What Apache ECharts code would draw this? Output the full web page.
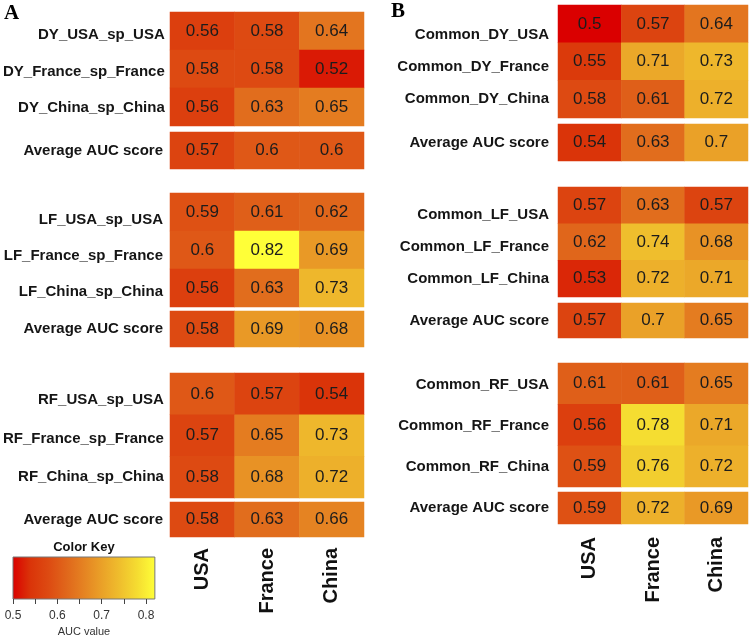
<!DOCTYPE html>
<html>
<head>
<meta charset="utf-8">
<script src="https://cdn.jsdelivr.net/npm/echarts@6/dist/echarts.min.js"></script>
<style>html,body{margin:0;padding:0;background:#fff}#c{width:750px;height:639px}</style>
</head>
<body>
<div id="c"></div>
<script>
// ---- data ----
const columns = ['USA', 'France', 'China'];
const avgLabel = 'Average AUC score';

const rowsA_DY = ['DY_USA_sp_USA', 'DY_France_sp_France', 'DY_China_sp_China'];
const valsA_DY = [[0.56, 0.58, 0.64], [0.58, 0.58, 0.52], [0.56, 0.63, 0.65]];
const avgA_DY = [0.57, 0.6, 0.6];

const rowsA_LF = ['LF_USA_sp_USA', 'LF_France_sp_France', 'LF_China_sp_China'];
const valsA_LF = [[0.59, 0.61, 0.62], [0.6, 0.82, 0.69], [0.56, 0.63, 0.73]];
const avgA_LF = [0.58, 0.69, 0.68];

const rowsA_RF = ['RF_USA_sp_USA', 'RF_France_sp_France', 'RF_China_sp_China'];
const valsA_RF = [[0.6, 0.57, 0.54], [0.57, 0.65, 0.73], [0.58, 0.68, 0.72]];
const avgA_RF = [0.58, 0.63, 0.66];

const rowsB_DY = ['Common_DY_USA', 'Common_DY_France', 'Common_DY_China'];
const valsB_DY = [[0.5, 0.57, 0.64], [0.55, 0.71, 0.73], [0.58, 0.61, 0.72]];
const avgB_DY = [0.54, 0.63, 0.7];

const rowsB_LF = ['Common_LF_USA', 'Common_LF_France', 'Common_LF_China'];
const valsB_LF = [[0.57, 0.63, 0.57], [0.62, 0.74, 0.68], [0.53, 0.72, 0.71]];
const avgB_LF = [0.57, 0.7, 0.65];

const rowsB_RF = ['Common_RF_USA', 'Common_RF_France', 'Common_RF_China'];
const valsB_RF = [[0.61, 0.61, 0.65], [0.56, 0.78, 0.71], [0.59, 0.76, 0.72]];
const avgB_RF = [0.59, 0.72, 0.69];

const keyMin = 0.5, keyMax = 0.82;
const keyTickMax = 0.8, keyTickStep = 0.05;
const heatColors = ['#DA0000', '#DA3409', '#DD4A12', '#E0661B', '#E58322', '#EAA128', '#EFBE2D', '#F5DD31', '#FFFF38'];

// ---- layout ----
const FONT = '"Liberation Sans", Arial, sans-serif';
const blocks = [
  {rows: rowsA_DY, vals: valsA_DY, avg: avgA_DY, left: 170, width: 194, top: 12, h: 114, avgTop: 132, avgH: 37, labTop: 16.75, labH: 109.5, margin: 7, avgPad: 14, last: false},
  {rows: rowsA_LF, vals: valsA_LF, avg: avgA_LF, left: 170, width: 194, top: 193, h: 114, avgTop: 311, avgH: 36, labTop: 202, labH: 108, margin: 7, avgPad: 4, last: false},
  {rows: rowsA_RF, vals: valsA_RF, avg: avgA_RF, left: 170, width: 194, top: 373, h: 125, avgTop: 502, avgH: 35, labTop: 380.75, labH: 115.5, margin: 7, avgPad: 0, last: true, xMargin: 11},
  {rows: rowsB_DY, vals: valsB_DY, avg: avgB_DY, left: 558, width: 190, top: 5, h: 113, avgTop: 124, avgH: 37, labTop: 19, labH: 96, margin: 9, avgPad: 8, last: false},
  {rows: rowsB_LF, vals: valsB_LF, avg: avgB_LF, left: 558, width: 190, top: 187, h: 110, avgTop: 303, avgH: 35, labTop: 199, labH: 96, margin: 9, avgPad: 4, last: false},
  {rows: rowsB_RF, vals: valsB_RF, avg: avgB_RF, left: 558, width: 190, top: 363, h: 124, avgTop: 492, avgH: 32, labTop: 364.5, labH: 123, margin: 9, avgPad: 0, last: true, xMargin: 13}
];

const grid = [], xAxis = [], yAxis = [], series = [];
const labelStyle = {fontFamily: FONT, fontWeight: 'bold', fontSize: 15, color: '#151515'};

function hiddenX(gi) {
  return {type: 'category', data: columns, gridIndex: gi, show: false};
}

blocks.forEach(b => {
  // main 3x3 block
  let gi = grid.length;
  grid.push({left: b.left, top: b.top, width: b.width, height: b.h});
  xAxis.push(hiddenX(gi));
  yAxis.push({type: 'category', data: b.rows, gridIndex: gi, inverse: true, show: false});
  const d = [];
  b.vals.forEach((row, ri) => row.forEach((v, ci) => d.push([ci, ri, v])));
  series.push({type: 'heatmap', xAxisIndex: gi, yAxisIndex: gi, data: d});

  // average row
  gi = grid.length;
  grid.push({left: b.left, top: b.avgTop, width: b.width, height: b.avgH});
  if (b.last) {
    xAxis.push({type: 'category', data: columns, gridIndex: gi, position: 'bottom',
      axisLine: {show: false}, axisTick: {show: false},
      axisLabel: {rotate: 90, margin: b.xMargin, fontFamily: FONT, fontWeight: 'bold', fontSize: 20, color: '#111'}});
  } else {
    xAxis.push(hiddenX(gi));
  }
  yAxis.push({type: 'category', data: [avgLabel], gridIndex: gi, inverse: true,
    axisLine: {show: false}, axisTick: {show: false},
    axisLabel: Object.assign({margin: b.margin, padding: [0, 0, b.avgPad, 0]}, labelStyle)});
  series.push({type: 'heatmap', xAxisIndex: gi, yAxisIndex: gi, data: b.avg.map((v, ci) => [ci, 0, v])});

  // row-label grid
  gi = grid.length;
  grid.push({left: b.left, top: b.labTop, width: b.width, height: b.labH});
  xAxis.push(hiddenX(gi));
  yAxis.push({type: 'category', data: b.rows, gridIndex: gi, inverse: true,
    axisLine: {show: false}, axisTick: {show: false}, splitLine: {show: false},
    axisLabel: Object.assign({margin: b.margin}, labelStyle)});
});

// colour key axis grid
const keyGi = grid.length;
const keyLeft = 13, keyTop = 557, keyH = 42;
const keyTickW = 133;
grid.push({left: keyLeft, top: keyTop, width: keyTickW, height: keyH});
xAxis.push({type: 'value', gridIndex: keyGi, min: keyMin, max: keyTickMax, interval: keyTickStep,
  axisLine: {show: false}, splitLine: {show: false},
  axisTick: {show: true, length: 5, lineStyle: {color: '#444', width: 1}},
  axisLabel: {margin: 11, fontFamily: FONT, fontSize: 12, color: '#333',
    formatter: v => (Math.round(v * 100) % 10 === 0 ? (Math.round(v * 10) / 10).toString() : '')}});
yAxis.push({type: 'value', gridIndex: keyGi, show: false});

series.forEach(s => {
  s.label = {show: true, fontFamily: FONT, fontSize: 17, color: '#1c1c1c', formatter: p => String(p.value[2])};
  s.emphasis = {disabled: true};
  s.itemStyle = {borderWidth: 0};
});

const keyW = keyTickW * (keyMax - keyMin) / (keyTickMax - keyMin);
const gradStops = heatColors.map((c, i) => ({offset: i / (heatColors.length - 1), color: c}));

const option = {
  animation: false,
  backgroundColor: '#fff',
  grid, xAxis, yAxis, series,
  visualMap: {type: 'continuous', show: false, min: keyMin, max: keyMax, calculable: false,
    seriesIndex: series.map((s, i) => i), inRange: {color: heatColors}},
  graphic: [
    {type: 'text', left: 4, top: 3, style: {text: 'A', font: 'bold 21px "Liberation Serif", "Times New Roman", serif', fill: '#000'}},
    {type: 'text', left: 391, top: 1, style: {text: 'B', font: 'bold 21px "Liberation Serif", "Times New Roman", serif', fill: '#000'}},
    {type: 'rect', shape: {x: keyLeft, y: keyTop, width: keyW, height: keyH},
      style: {fill: new echarts.graphic.LinearGradient(0, 0, 1, 0, gradStops), stroke: '#777', lineWidth: 1}},
    {type: 'text', x: keyLeft + keyW / 2, y: 547, style: {text: 'Color Key', font: 'bold 13px ' + FONT, fill: '#111', align: 'center', verticalAlign: 'middle'}},
    {type: 'text', x: keyLeft + keyW / 2, y: 632, style: {text: 'AUC value', font: '11px ' + FONT, fill: '#333', align: 'center', verticalAlign: 'middle'}}
  ]
};

const chart = echarts.init(document.getElementById('c'), null, {renderer: 'canvas'});
chart.setOption(option);
</script>
</body>
</html>
